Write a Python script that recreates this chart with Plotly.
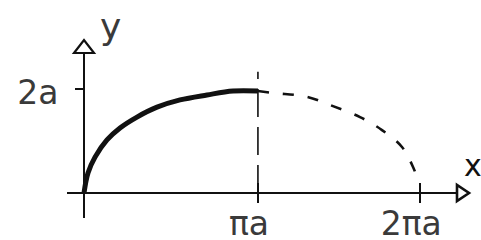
import plotly.graph_objects as go

# --- data (units of a) ---
solid_x = [0, 0.072, 0.199, 0.415, 0.65, 0.957, 1.318, 1.733, 2.22, 2.69, 3.14]
solid_y = [0, 0.385, 0.69, 1.02, 1.25, 1.46, 1.65, 1.79, 1.885, 1.96, 1.96]

dashed_x = [3.14, 3.448, 4.026, 4.495, 4.983, 5.38, 5.741, 5.94, 5.994]
dashed_y = [1.96, 1.92, 1.85, 1.67, 1.46, 1.21, 0.885, 0.5, 0.35]

vline_x = [3.14, 3.14]
vline_y = [0, 2.33]

x_tickvals = [3.14, 6.07]
x_ticktext = ["πa", "2πa"]
y_tickvals = [2.0]
y_ticktext = ["2a"]

x_range = [-0.307, 6.734]
y_range = [-0.481, 2.692]

INK = "#111111"
TXT = "#3a3a3a"
FONT = dict(family="DejaVu Sans", size=33, color=TXT)

fig = go.Figure()

fig.add_trace(go.Scatter(x=vline_x, y=vline_y, mode="lines",
                         line=dict(color=INK, width=1.6, dash="28px,10px"),
                         hoverinfo="skip", cliponaxis=False))
fig.add_trace(go.Scatter(x=dashed_x, y=dashed_y, mode="lines", line_shape="spline",
                         line=dict(color=INK, width=2.6, dash="11px,14px"),
                         hoverinfo="skip", cliponaxis=False))
fig.add_trace(go.Scatter(x=solid_x, y=solid_y, mode="lines", line_shape="spline",
                         line=dict(color=INK, width=5),
                         hoverinfo="skip", cliponaxis=False))

L, R, T, B = 67, 24, 53, 22
W, H = 481, 240
pw, ph = W - L - R, H - T - B
x0px, y0px = 84, 193
x_axis_pos = (H - B - y0px) / ph   # paper y of the x axis
y_axis_pos = (x0px - L) / pw       # paper x of the y axis

# open arrowheads at the ends of the axes (pixel-sized paths, paper anchored)
fig.add_shape(type="path", xref="paper", yref="paper", xsizemode="pixel", ysizemode="pixel",
              xanchor=y_axis_pos, yanchor=1,
              path="M -10,0 L 10,0 L 0,13 Z",
              line=dict(color=INK, width=2.2), fillcolor="white")
fig.add_shape(type="path", xref="paper", yref="paper", xsizemode="pixel", ysizemode="pixel",
              xanchor=1, yanchor=x_axis_pos,
              path="M 0,-8 L 0,8 L 12,0 Z",
              line=dict(color=INK, width=2.6), fillcolor="white")

fig.update_layout(
    width=W, height=H,
    margin=dict(l=L, r=R, t=T, b=B, autoexpand=False),
    paper_bgcolor="white", plot_bgcolor="white",
    showlegend=False,
    xaxis=dict(range=x_range, showgrid=False, zeroline=False, automargin=False,
               showline=True, linecolor=INK, linewidth=2,
               anchor="free", position=x_axis_pos,
               tickvals=x_tickvals, ticktext=x_ticktext,
               ticks="outside", ticklen=9, tickwidth=2, tickcolor=INK,
               minor=dict(tickvals=x_tickvals, ticks="inside", ticklen=9,
                          tickwidth=2, tickcolor=INK, showgrid=False),
               tickfont=FONT, ticklabelstandoff=-8, ticklabelshift=-9),
    yaxis=dict(range=y_range, showgrid=False, zeroline=False, automargin=False,
               showline=True, linecolor=INK, linewidth=2,
               anchor="free", position=y_axis_pos,
               tickvals=y_tickvals, ticktext=y_ticktext,
               ticks="outside", ticklen=8, tickwidth=2, tickcolor=INK,
               tickfont=FONT, ticklabelstandoff=10, ticklabelshift=3),
    annotations=[
        dict(text="y", xref="paper", yref="paper", x=(110 - L) / pw, y=(H - B - 26) / ph,
             xanchor="center", yanchor="middle",
             showarrow=False, font=dict(family="DejaVu Sans", size=36, color=TXT)),
        dict(text="x", xref="paper", yref="paper", x=(473 - L) / pw, y=(H - B - 165) / ph,
             xanchor="center", yanchor="middle",
             showarrow=False, font=dict(family="DejaVu Sans", size=30, color=INK)),
    ],
)

fig.write_html("out.html", config={"displayModeBar": False, "staticPlot": True},
               post_script="document.body.style.margin='0';")
